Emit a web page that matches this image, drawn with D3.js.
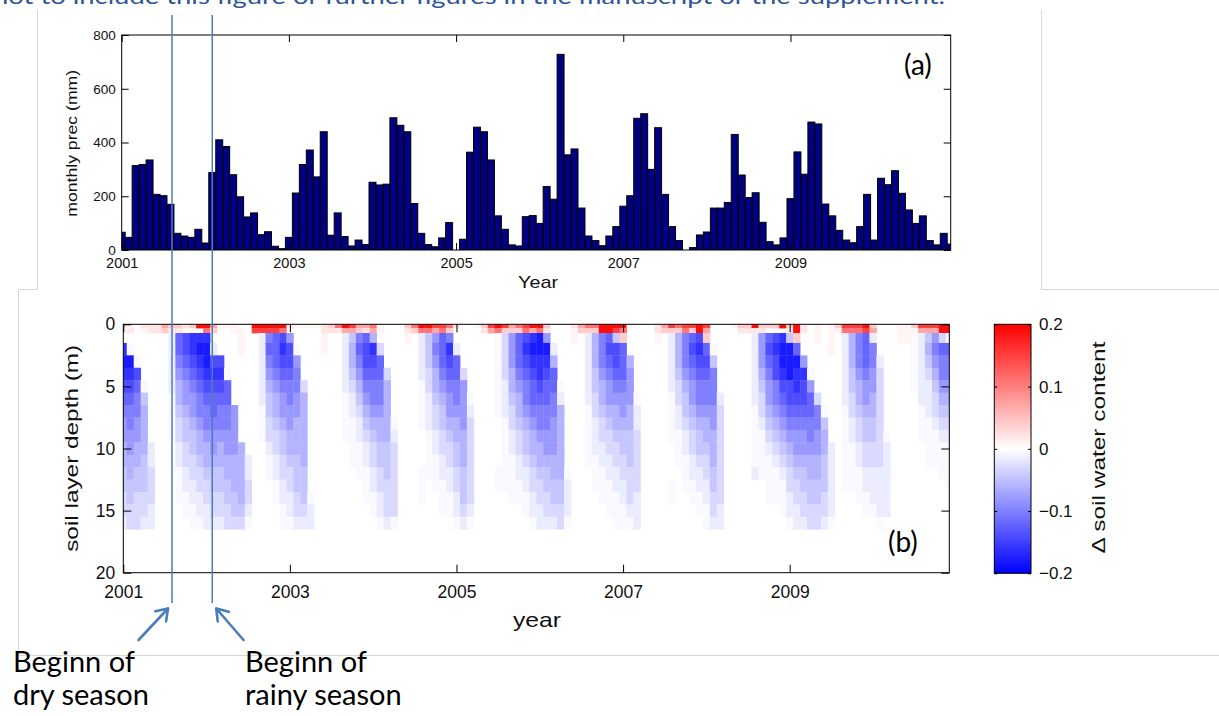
<!DOCTYPE html>
<html>
<head>
<meta charset="utf-8">
<script src="https://cdn.jsdelivr.net/npm/d3@7"></script>
<style>
  body { margin: 0; background: #fff; }
  svg { display: block; }
</style>
</head>
<body>
<svg id="fig" width="1219" height="716"></svg>
<script>
// ---- monthly precipitation (mm), Jan..Dec
const prec2001 = [66,47,314,318,335,207,202,170,62,52,47,77];
const prec2002 = [26,288,410,385,280,198,123,138,57,68,14,5];
const prec2003 = [47,212,318,372,272,440,55,138,50,15,37,20];
const prec2004 = [252,242,245,492,464,440,173,62,20,12,45,102];
const prec2005 = [0,40,364,457,440,335,127,77,19,15,124,128];
const prec2006 = [99,236,189,728,354,376,156,52,35,16,52,87];
const prec2007 = [163,202,490,507,300,455,207,87,35,0,9,56];
const prec2008 = [67,156,156,177,430,279,195,213,103,31,19,45];
const prec2009 = [191,365,282,476,469,171,127,73,37,27,87,207];
const prec2010 = [37,267,243,295,211,149,99,127,35,19,62,22];

// ---- soil layer boundaries (m)
const layerEdges = [0,0.3,0.7,1.5,2.5,3.5,4.5,5.5,6.5,7.5,8.5,9.5,10.5,11.5,12.5,13.5,14.5,15.5,16.5];

// ---- delta soil water content, one string per month, one char per layer (top -> bottom)
const swcCode = {"0":0,"1":-0.005,"2":-0.015,"3":-0.03,"4":-0.045,"5":-0.06,"6":-0.08,"7":-0.1,
                 "8":-0.12,"9":-0.14,"A":-0.16,"B":-0.18,
                 "a":0.008,"b":0.02,"c":0.04,"d":0.07,"e":0.11,"f":0.15,"g":0.19};
const swc2001 = ["ba0ABA987665544332","ab01BA987766554433","000019877665544333","ba0000145555444332",
                 "bb0000000002233322","bb0000000000000000","dc0000000000000000","cb2222211110000000",
                 "cb8876554332211100","b09987665443322110","caAA98766544332211","g0ABA9877655433221"];
const swc2002 = ["geABBA987765543322","dc029A988766544332","a0009A987765544332","a00001887766554433",
                 "aa0000006666555443","0aaa00000005555543","000000000000223321","gf0000000000000000",
                 "gf2222221110000000","gf7876544332110000","gf8887655433221100","ge9A98766544332211"];
const swc2003 = ["b06998776655433221","a00167766555444332","a00000355555544432","a00000000000000122",
                 "a00000000000000000","bbaa00000000000000","cb0000000000000000","eb0000000000000000",
                 "gd2222211110000000","fd4554322111100000","dc7876543221110000","db8998765432211100"];
const swc2004 = ["ed5A98776543322110","aa0388776554433221","000003555554443332","000000000123333331",
                 "000000000000000000","cba000000000000000","ec0000000000000000","ge2222111100011100",
                 "ge4443322211110000","fd6765543322111000","fe8887654433221110","ec7A98766543322110"];
const swc2005 = ["b00288776554433221","000003666655544432","000000012333333321","a00000000000000000",
                 "cb0000000000000000","fd0000000000000000","ge1111111000011000","fc3333222111111000",
                 "dc6665543322111100","ec8887655433221100","fe9A98776544322110","gdABA9887655433221"];
const swc2006 = ["geBBAA987765543322","cb6BA9887766544332","000258877666554432","000000125555554433",
                 "000000000000012221","baa000000000000000","dc0000000000000000","ec2222221111100000",
                 "ec5554433222111000","gg7776554332211100","gg8987665433221110","gf4998765543322111"];
const swc2007 = ["gec888766544332211","a00056665544433321","000000012233333222","000000000000000000",
                 "000000000000000000","bba000000000000000","dc0000000000000000","fc2222211110001100",
                 "ec5554332211100000","fe7776544322111000","fc8987665433221100","gg9A98776544322110"];
const swc2008 = ["fdc898776554332211","000147776655544332","000000023333333322","000000000000000000",
                 "a00000000000000000","cb0000000000000000","cb0000000000000000","gb2222221111120000",
                 "cb6665433211110000","c08987665432111100","c09A99776543211100","g0ABBA987654321110"];
const swc2009 = ["cb4BBB998765433221","ggc8BAA98766543322","bb006A998766544332","000001688776554433",
                 "aaa000037766554433","000000001455444332","aaaa00000002222221","ca0000000000000000",
                 "fe2222221111111000","fe5554433221111000","fe7776554332211100","gf8887665443322110"];
const swc2010 = ["cd2776655443322210","000023333333322221","000000000012222220","000000000000000000",
                 "aaa000000000000000","aaa000000000000000","ca1111100000000000","fd2222221110000000",
                 "fd4543222111100000","fd6765433211100000","gg3877654321110000","gg1877654321111000"];

const yearTicks = [2001,2003,2005,2007,2009];
const precTicks = [0,200,400,600,800];
const depthTicks = [0,5,10,15,20];
const cbarTicks = [-0.2,-0.1,0,0.1,0.2];
const seasonStarts = [2001.585, 2002.068];   // begin of dry / rainy season

const precYears = [prec2001,prec2002,prec2003,prec2004,prec2005,prec2006,prec2007,prec2008,prec2009,prec2010];
const swcYears = [swc2001,swc2002,swc2003,swc2004,swc2005,swc2006,swc2007,swc2008,swc2009,swc2010];

const svg = d3.select("#fig");
const AX = "'Liberation Sans', Arial, sans-serif";
const SLIDE = "Lato, 'Open Sans', sans-serif";
const BLUE = "#4a7ebb";

// ---- slide decorations
svg.append("text").attr("x", -7).attr("y", 4)
   .attr("font-family", SLIDE).attr("font-size", 22).attr("fill", "#2f5597")
   .attr("textLength", 952).attr("lengthAdjust", "spacingAndGlyphs")
   .text("not to include this figure or further figures in the manuscript or the supplement.");
svg.append("path").attr("fill","none").attr("stroke","#d6d6d6").attr("stroke-width",1)
   .attr("d","M37.5,10V289.5H18.5V655.5H1219");
svg.append("path").attr("fill","none").attr("stroke","#d6d6d6").attr("stroke-width",1)
   .attr("d","M1041.5,10V289.5H1219");

// =============== panel (a) ===============
const tEnd = 2010 + 11/12;
const xA = d3.scaleLinear().domain([2001, tEnd]).range([121.7, 950.7]);
const yA = d3.scaleLinear().domain([0, 800]).range([250, 35]);
const precData = [];
precYears.forEach((arr, yi) => arr.forEach((v, m) => precData.push({t: 2001 + yi + m/12, v})));
const bw = xA(2001 + 1/12) - xA(2001);

svg.append("clipPath").attr("id","clipA").append("rect")
   .attr("x", xA.range()[0]).attr("y", yA.range()[1])
   .attr("width", xA.range()[1]-xA.range()[0]).attr("height", yA.range()[0]-yA.range()[1]);
const gA = svg.append("g");
gA.append("g").attr("clip-path","url(#clipA)").selectAll("rect").data(precData).join("rect")
   .attr("x", d => xA(d.t) - bw/2).attr("width", bw)
   .attr("y", d => yA(d.v)).attr("height", d => yA(0) - yA(d.v))
   .attr("fill", "#000080").attr("stroke", "#000").attr("stroke-width", 1);

function styleAxis(g, size){
  g.select(".domain").remove();
  g.attr("font-family", AX).attr("font-size", size);
  g.selectAll(".tick line").attr("stroke", "#000");
  g.selectAll(".tick text").attr("fill", "#111");
}
gA.append("g").attr("transform", `translate(0,${yA(0)})`)
  .call(d3.axisBottom(xA).tickValues(yearTicks).tickSize(-7).tickPadding(8).tickFormat(d3.format("d")))
  .call(g => styleAxis(g, 14.5));
gA.append("g").attr("transform", `translate(0,${yA(800)})`)
  .call(d3.axisTop(xA).tickValues(yearTicks).tickSize(-7).tickFormat(""))
  .call(g => styleAxis(g, 14.5));
gA.append("g").attr("transform", `translate(${xA.range()[0]},0)`)
  .call(d3.axisLeft(yA).tickValues(precTicks).tickSize(-7).tickPadding(6))
  .call(g => styleAxis(g, 13.5));
gA.append("g").attr("transform", `translate(${xA.range()[1]},0)`)
  .call(d3.axisRight(yA).tickValues(precTicks).tickSize(-7).tickFormat(""))
  .call(g => styleAxis(g, 13.5));
gA.append("rect").attr("x", xA.range()[0]).attr("y", yA.range()[1])
  .attr("width", xA.range()[1]-xA.range()[0]).attr("height", yA.range()[0]-yA.range()[1])
  .attr("fill","none").attr("stroke","#000").attr("stroke-width",1);
gA.append("text").attr("x", 538).attr("y", 288).attr("text-anchor","middle")
  .attr("font-family", AX).attr("font-size", 17).attr("fill","#111")
  .attr("textLength", 40).attr("lengthAdjust","spacingAndGlyphs").text("Year");
gA.append("text").attr("transform","translate(76.5,143.3) rotate(-90)").attr("text-anchor","middle")
  .attr("font-family", AX).attr("font-size", 15).attr("fill","#111")
  .attr("textLength", 147).attr("lengthAdjust","spacingAndGlyphs").text("monthly prec (mm)");
gA.append("text").attr("x", 904).attr("y", 75).attr("font-family", SLIDE).attr("font-size", 28)
  .attr("fill","#000").text("(a)");

// =============== panel (b) ===============
const xB = d3.scaleLinear().domain([2001, tEnd]).range([123.3, 949.3]);
const yB = d3.scaleLinear().domain([0, 20]).range([324.3, 572.7]);
const color = d3.scaleLinear().domain([-0.2, 0, 0.2]).range(["#0000ff", "#ffffff", "#ff0000"]).clamp(true);

const cells = [];
swcYears.forEach((yr, yi) => yr.forEach((col, m) => {
  for (let r = 0; r < layerEdges.length - 1; r++) {
    const v = swcCode[col.charAt(r)] || 0;
    if (v !== 0) cells.push({t: 2001 + yi + m/12, r, v});
  }
}));

svg.append("clipPath").attr("id","clipB").append("rect")
   .attr("x", xB.range()[0]).attr("y", yB.range()[0])
   .attr("width", xB.range()[1]-xB.range()[0]).attr("height", yB.range()[1]-yB.range()[0]);
const gB = svg.append("g");
gB.append("g").attr("clip-path","url(#clipB)").selectAll("rect").data(cells).join("rect")
   .attr("x", d => xB(d.t - 1/24)).attr("width", d => xB(d.t + 1/24) - xB(d.t - 1/24) + 0.4)
   .attr("y", d => yB(layerEdges[d.r])).attr("height", d => yB(layerEdges[d.r+1]) - yB(layerEdges[d.r]) + 0.4)
   .attr("fill", d => color(d.v));

gB.append("g").attr("transform", `translate(0,${yB(20)})`)
  .call(d3.axisBottom(xB).tickValues(yearTicks).tickSize(-8).tickPadding(13).tickFormat(d3.format("d")))
  .call(g => styleAxis(g, 17.5));
gB.append("g").attr("transform", `translate(0,${yB(0)})`)
  .call(d3.axisTop(xB).tickValues(yearTicks).tickSize(-8).tickFormat(""))
  .call(g => styleAxis(g, 17.5));
gB.append("g").attr("transform", `translate(${xB.range()[0]},0)`)
  .call(d3.axisLeft(yB).tickValues(depthTicks).tickSize(-8).tickPadding(8))
  .call(g => styleAxis(g, 17.5));
gB.append("g").attr("transform", `translate(${xB.range()[1]},0)`)
  .call(d3.axisRight(yB).tickValues(depthTicks).tickSize(-8).tickFormat(""))
  .call(g => styleAxis(g, 17.5));
gB.append("rect").attr("x", xB.range()[0]).attr("y", yB.range()[0])
  .attr("width", xB.range()[1]-xB.range()[0]).attr("height", yB.range()[1]-yB.range()[0])
  .attr("fill","none").attr("stroke","#000").attr("stroke-width",1);
gB.append("text").attr("x", 537).attr("y", 627).attr("text-anchor","middle")
  .attr("font-family", AX).attr("font-size", 21).attr("fill","#111")
  .attr("textLength", 48).attr("lengthAdjust","spacingAndGlyphs").text("year");
gB.append("text").attr("transform","translate(78,448.3) rotate(-90)").attr("text-anchor","middle")
  .attr("font-family", AX).attr("font-size", 19).attr("fill","#111")
  .attr("textLength", 207).attr("lengthAdjust","spacingAndGlyphs").text("soil layer depth (m)");
gB.append("text").attr("x", 888).attr("y", 552).attr("font-family", SLIDE).attr("font-size", 28)
  .attr("fill","#000").text("(b)");

// ---- colorbar
const yC = d3.scaleLinear().domain([-0.2, 0.2]).range([573.3, 324.3]);
const cx0 = 994.3, cx1 = 1031;
const grad = svg.append("defs").append("linearGradient").attr("id","cbar")
  .attr("x1",0).attr("y1",1).attr("x2",0).attr("y2",0);
grad.selectAll("stop").data(d3.range(0, 1.0001, 0.05)).join("stop")
  .attr("offset", d => d).attr("stop-color", d => color(-0.2 + 0.4*d));
const gC = svg.append("g");
gC.append("rect").attr("x", cx0).attr("y", yC(0.2)).attr("width", cx1-cx0).attr("height", yC(-0.2)-yC(0.2))
  .attr("fill","url(#cbar)").attr("stroke","#000").attr("stroke-width",1);
gC.append("g").attr("transform", `translate(${cx1},0)`)
  .call(d3.axisRight(yC).tickValues(cbarTicks).tickSize(-3).tickPadding(8).tickFormat(d => d === 0 ? "0" : d3.format(".1f")(d)))
  .call(g => styleAxis(g, 17));
gC.append("g").attr("transform", `translate(${cx0},0)`)
  .call(d3.axisLeft(yC).tickValues(cbarTicks).tickSize(-3).tickFormat(""))
  .call(g => styleAxis(g, 17));
gC.append("text").attr("transform","translate(1104.5,447.5) rotate(-90)").attr("text-anchor","middle")
  .attr("font-family", AX).attr("font-size", 18).attr("fill","#111")
  .attr("textLength", 212).attr("lengthAdjust","spacingAndGlyphs").text("\u0394 soil water content");

// ---- season annotation
const gS = svg.append("g");
gS.selectAll("line.season").data(seasonStarts).join("line").attr("class","season")
  .attr("x1", d => xB(d)).attr("x2", d => xB(d)).attr("y1", 15).attr("y2", 603)
  .attr("stroke", BLUE).attr("stroke-width", 1.5);

function arrow(x1, y1, x2, y2){
  const a = Math.atan2(y2 - y1, x2 - x1), L = 13, s = 0.6;
  const g = gS.append("g").attr("stroke", BLUE).attr("stroke-width", 2.6).attr("fill","none")
    .attr("stroke-linecap","round").attr("stroke-linejoin","round");
  g.append("line").attr("x1", x1).attr("y1", y1).attr("x2", x2).attr("y2", y2);
  g.append("path").attr("d",
    `M${x2 - L*Math.cos(a - s)},${y2 - L*Math.sin(a - s)}L${x2},${y2}L${x2 - L*Math.cos(a + s)},${y2 - L*Math.sin(a + s)}`);
}
arrow(138.5, 640, xB(seasonStarts[0]) - 4, 608.5);
arrow(243.5, 640, xB(seasonStarts[1]) + 4, 608.5);

const notes = [{x: 13, lines: ["Beginn of", "dry season"]}, {x: 245, lines: ["Beginn of", "rainy season"]}];
notes.forEach(n => n.lines.forEach((s, i) => {
  gS.append("text").attr("x", n.x).attr("y", 671.5 + i*33.5)
    .attr("font-family", SLIDE).attr("font-size", 29).attr("fill", "#000").text(s);
}));
</script>
</body>
</html>
